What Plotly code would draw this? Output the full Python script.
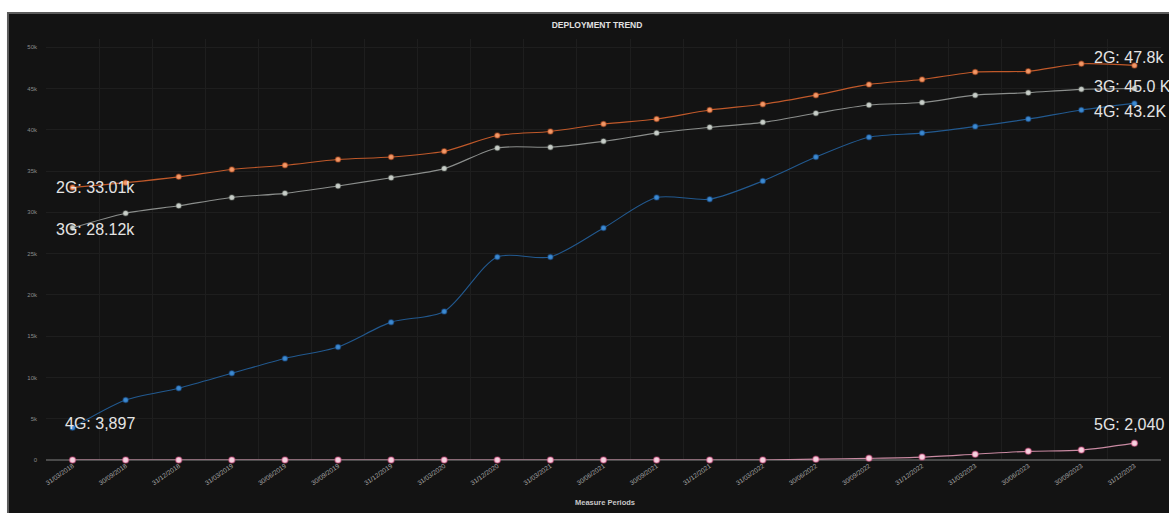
import plotly.graph_objects as go

# Quarter-end measure periods
periods = [
    "31/03/2018", "30/09/2018", "31/12/2018", "31/03/2019", "30/06/2019",
    "30/09/2019", "31/12/2019", "31/03/2020", "31/12/2020", "31/03/2021",
    "30/06/2021", "30/09/2021", "31/12/2021", "31/03/2022", "30/06/2022",
    "30/09/2022", "31/12/2022", "31/03/2023", "30/06/2023", "30/09/2023",
    "31/12/2023",
]

# Deployed sites per technology
sites_2g = [33010, 33600, 34300, 35200, 35700, 36400, 36700, 37400, 39300, 39800,
            40700, 41300, 42400, 43100, 44200, 45500, 46100, 47000, 47100, 48000,
            47800]
sites_3g = [28120, 29900, 30800, 31800, 32300, 33200, 34200, 35300, 37800, 37900,
            38600, 39600, 40300, 40900, 42000, 43000, 43300, 44200, 44500, 44900,
            45000]
sites_4g = [3897, 7260, 8700, 10500, 12300, 13700, 16700, 18000, 24600, 24600,
            28100, 31800, 31600, 33800, 36700, 39100, 39600, 40400, 41300, 42400,
            43200]
sites_5g = [0, 0, 0, 0, 0, 0, 0, 0, 0, 0,
            0, 0, 0, 0, 100, 200, 350, 700, 1050, 1200,
            2040]

# Start / end labels: (text, series, index, xanchor, xshift, yshift)
start_labels = [
    ("2G: 33.01k", sites_2g, 0, "right", 64, 0),
    ("3G: 28.12k", sites_3g, 0, "right", 64, -2),
    ("4G: 3,897", sites_4g, 0, "right", 64, 4),
]
end_labels = [
    ("2G: 47.8k", sites_2g, -1, "left", -42, 8),
    ("3G: 45.0 K", sites_3g, -1, "left", -42, 2),
    ("4G: 43.2K", sites_4g, -1, "left", -42, -8),
    ("5G: 2,040", sites_5g, -1, "left", -42, 19),
]

# name, values, line colour, marker colour, marker halo, marker size
series = [
    ("5G", sites_5g, "#c98aa2", "#f5d2df", "rgba(225,80,135,0.45)", 6),
    ("4G", sites_4g, "#22598f", "#3d8ad0", "rgba(30,90,160,0.45)", 5),
    ("3G", sites_3g, "#8b8e8c", "#c9cfca", "rgba(140,150,140,0.35)", 5),
    ("2G", sites_2g, "#c0592a", "#f09a6a", "rgba(210,90,40,0.45)", 5),
]

fig = go.Figure()
for name, vals, line_c, mark_c, halo_c, msize in series:
    fig.add_trace(go.Scatter(
        x=periods, y=vals, name=name, mode="lines+markers",
        line=dict(color=line_c, width=1.1, shape="spline", smoothing=0.8),
        marker=dict(size=msize, color=mark_c, line=dict(color=halo_c, width=1.5)),
        cliponaxis=False,
    ))

annotations = []
for text, vals, idx, xa, xs, ys in start_labels + end_labels:
    annotations.append(dict(
        x=periods[idx], y=vals[idx], xref="x", yref="y", text=text,
        showarrow=False, xanchor=xa, yanchor="middle", xshift=xs, yshift=ys,
        font=dict(family="Liberation Sans, Arial, sans-serif", size=16, color="#e4e4e4"),
    ))

annotations.append(dict(
    x=0.501, y=-0.102, xref="paper", yref="paper", text="<b>Measure Periods</b>",
    showarrow=False, xanchor="center", yanchor="middle",
    font=dict(family="Liberation Sans, Arial, sans-serif", size=7.5, color="#c8c8c8"),
))

# Dark dashboard panel behind the chart
panel = dict(
    type="rect", xref="paper", yref="paper",
    x0=-0.0341, x1=1.01, y0=-0.131, y1=1.0618,
    fillcolor="#131313", line=dict(color="#5c5c5c", width=2), layer="below",
)

fig.update_layout(
    width=1169, height=513,
    margin=dict(l=46, r=8, t=39, b=53),
    paper_bgcolor="#ffffff",
    plot_bgcolor="rgba(0,0,0,0)",
    showlegend=False,
    shapes=[panel],
    annotations=annotations,
    title=dict(
        text="<b>DEPLOYMENT TREND</b>", x=0.5107, y=0.951,
        xanchor="center", yanchor="middle",
        font=dict(family="Liberation Sans, Arial, sans-serif", size=8.5, color="#e0e0e0"),
    ),
    xaxis=dict(
        type="category", range=[-0.5, len(periods) - 0.5],
        tickson="boundaries", ticks="", tickangle=-35,
        showgrid=True, gridcolor="#1e1e1e", gridwidth=1,
        tickfont=dict(family="Liberation Sans, Arial, sans-serif", size=6.5, color="#a8a8a8"),
        showline=False, zeroline=False,
    ),
    yaxis=dict(
        range=[0, 51000], dtick=5000, tickformat="~s",
        showgrid=True, gridcolor="#1e1e1e", gridwidth=1,
        zeroline=True, zerolinecolor="#4a4a4a", zerolinewidth=1.5,
        tickfont=dict(family="Liberation Sans, Arial, sans-serif", size=6, color="#8a8a8a"),
        ticks="", showline=False, ticklabelstandoff=8,
    ),
)

fig.write_html("out.html")
